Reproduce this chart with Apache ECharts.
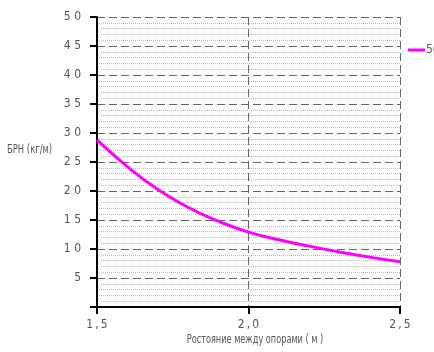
<!DOCTYPE html>
<html><head><meta charset="utf-8">
<script src="https://cdn.jsdelivr.net/npm/echarts@6/dist/echarts.min.js"></script>
<style>html,body{margin:0;padding:0;background:#fff}#c{width:434px;height:352px}</style>
</head><body><div id="c"></div>
<script>
const seriesName = '50';
const xValues = [1.5, 1.6, 1.7, 1.8, 1.9, 2.0, 2.1, 2.2, 2.3, 2.4, 2.5];
const yValues = [28.8, 24.2, 20.3, 17.2, 14.8, 12.9, 11.6, 10.5, 9.5, 8.6, 7.8];
const xAxisTitle = 'Ростояние между опорами ( м )';
const yAxisTitle = 'БРН (кг/м)';

const FONT = "'DejaVu Sans Condensed', 'Liberation Sans', sans-serif";
const chart = echarts.init(document.getElementById('c'));
chart.setOption({
  animation: false,
  textStyle: {fontFamily: FONT},
  grid: {left: 97, right: 34, top: 17, bottom: 45},
  legend: {
    show: true, left: 403, top: 39, itemWidth: 17, itemHeight: 3, itemGap: 2,
    icon: 'rect',
    textStyle: {fontFamily: FONT, fontSize: 12, color: '#555', padding: [0,0,0,-4]},
    data: [seriesName]
  },
  graphic: [{
    type: 'text', x: 7, y: 150, scaleX: 0.72,
    style: {text: yAxisTitle, font: "13px " + FONT, fill: '#555', textVerticalAlign: 'middle'}
  }, {
    type: 'text', x: 255, y: 340, scaleX: 0.70,
    style: {text: xAxisTitle, font: "13px " + FONT, fill: '#555', textAlign: 'center', textVerticalAlign: 'middle'}
  }],
  xAxis: {
    type: 'value', min: 1.5, max: 2.5, interval: 0.5,
    axisLine: {onZero: false, lineStyle: {color: '#000', width: 2}},
    axisTick: {show: true, length: 7, lineStyle: {color: '#000', width: 2}},
    axisLabel: {margin: 12, fontSize: 12, color: '#555', fontFamily: FONT,
      formatter: v => v.toFixed(1).replace('.', '\u2009,\u2009')},
    splitLine: {show: true, lineStyle: {color: '#666', type: [8, 4], width: 1}}
  },
  yAxis: {
    type: 'value', min: 0, max: 50, interval: 5,
    axisLine: {show: true, lineStyle: {color: '#000', width: 2}},
    axisTick: {show: true, length: 7, lineStyle: {color: '#000', width: 2}},
    axisLabel: {margin: 16, fontSize: 12, color: '#555', fontFamily: FONT,
      formatter: v => v === 0 ? '' : String(v).split('').join(' ')},
    splitLine: {show: true, lineStyle: {color: '#666', type: [8, 4], width: 1}},
    minorTick: {show: false, splitNumber: 5},
    minorSplitLine: {show: true, lineStyle: {color: '#bbb', type: [1, 1], width: 1}}
  },
  series: [{
    name: seriesName, type: 'line', smooth: true, showSymbol: false,
    data: xValues.map((x, i) => [x, yValues[i]]),
    lineStyle: {color: '#ff00ff', width: 3},
    itemStyle: {color: '#ff00ff'}
  }]
});
</script></body></html>
